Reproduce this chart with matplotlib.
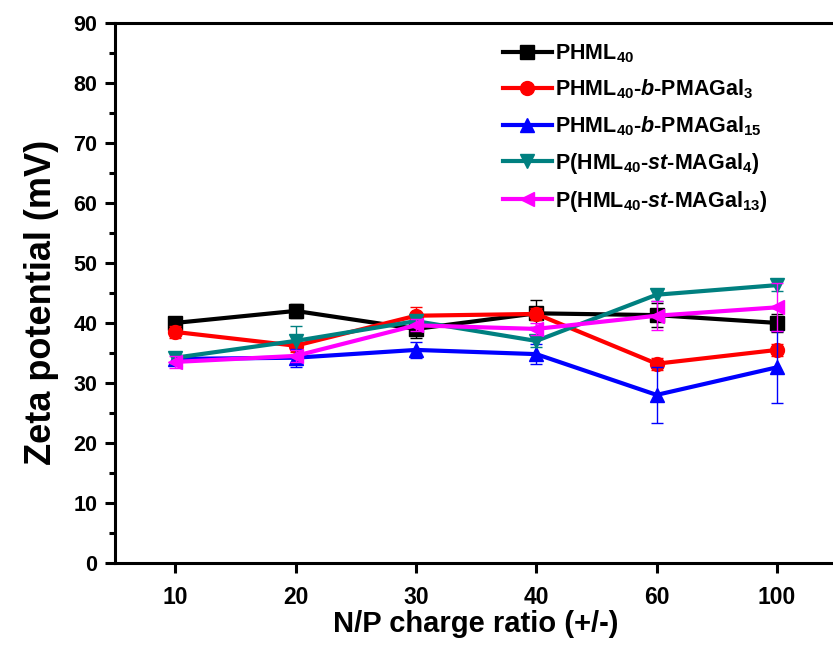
import matplotlib
matplotlib.use("Agg")
import matplotlib.pyplot as plt
from matplotlib.ticker import MultipleLocator

# data
np_ratio = ["10", "20", "30", "40", "60", "100"]

phml = [40.0, 42.0, 39.0, 41.6, 41.3, 40.0]
phml_err = [1.0, 1.2, 1.5, 2.3, 2.0, 1.5]

phml_b3 = [38.5, 36.2, 41.2, 41.5, 33.2, 35.5]
phml_b3_err = [1.0, 1.0, 1.5, 1.0, 1.0, 1.0]

phml_b15 = [34.0, 34.2, 35.5, 34.8, 28.0, 32.6]
phml_b15_err = [1.0, 1.5, 1.3, 1.7, 4.7, 6.0]

phml_st4 = [34.2, 37.0, 40.3, 37.0, 44.7, 46.3]
phml_st4_err = [1.0, 2.5, 1.0, 1.0, 1.0, 1.0]

phml_st13 = [33.5, 34.5, 39.6, 39.0, 41.2, 42.6]
phml_st13_err = [1.0, 1.0, 1.0, 1.0, 2.4, 4.0]

labels = [
    r"PHML$_{40}$",
    r"PHML$_{40}$-$\it{b}$-PMAGal$_{3}$",
    r"PHML$_{40}$-$\it{b}$-PMAGal$_{15}$",
    r"P(HML$_{40}$-$\it{st}$-MAGal$_{4}$)",
    r"P(HML$_{40}$-$\it{st}$-MAGal$_{13}$)",
]

plt.rcParams["font.family"] = ["Liberation Sans", "DejaVu Sans"]
plt.rcParams["font.weight"] = "bold"
plt.rcParams["mathtext.fontset"] = "custom"
plt.rcParams["mathtext.rm"] = "Liberation Sans:bold"
plt.rcParams["mathtext.bf"] = "Liberation Sans:bold"
plt.rcParams["mathtext.it"] = "Liberation Sans:bold:italic"

fig = plt.figure(figsize=(8.33, 6.47), dpi=100)
ax = fig.add_axes([0.138, 0.130, 0.867, 0.8345])

x = list(range(len(np_ratio)))
series = [
    (phml, phml_err, "black", "s"),
    (phml_b3, phml_b3_err, "red", "o"),
    (phml_b15, phml_b15_err, "blue", "^"),
    (phml_st4, phml_st4_err, "#008080", "v"),
    (phml_st13, phml_st13_err, "magenta", "<"),
]

handles = []
for (y, err, c, m), lab in zip(series, labels):
    ln, = ax.plot(x, y, color=c, marker=m, markersize=10, linewidth=3.0, label=lab)
    ax.errorbar(x, y, yerr=err, fmt="none", ecolor=c, elinewidth=1.0,
                capsize=4, capthick=1.0)
    handles.append(ln)

ax.set_xlim(-0.5, 5.5)
ax.set_ylim(0, 90)
ax.set_xticks(x)
ax.set_xticklabels(np_ratio, fontsize=16.5, fontweight="bold")
ax.yaxis.set_major_locator(MultipleLocator(10))
ax.yaxis.set_minor_locator(MultipleLocator(5))
for t in ax.get_yticklabels():
    t.set_fontsize(15.5)
    t.set_fontweight("bold")

ax.tick_params(axis="both", which="major", direction="out", length=7.5, width=2.2)
ax.tick_params(axis="y", which="minor", direction="out", length=4, width=2.2)
ax.tick_params(axis="y", which="major", pad=5)
ax.tick_params(axis="x", which="major", pad=9)
for s in ax.spines.values():
    s.set_linewidth(2.2)

ax.set_xlabel("N/P charge ratio (+/-)", fontsize=21, fontweight="bold", labelpad=1)
ax.set_ylabel("Zeta potential (mV)", fontsize=26, fontweight="bold")
ax.yaxis.set_label_coords(-0.077, 0.483)

leg = ax.legend(handles=handles, loc="upper left", bbox_to_anchor=(0.51, 1.0),
                frameon=False, fontsize=15.5, handlelength=2.3, handletextpad=0.15,
                labelspacing=0.6)

fig.savefig("out.png", dpi=100)
